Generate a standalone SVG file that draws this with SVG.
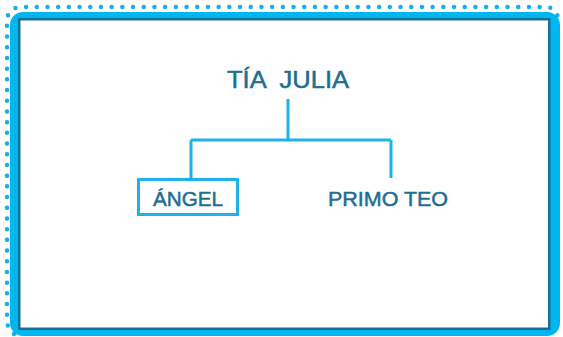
<svg xmlns="http://www.w3.org/2000/svg" width="563" height="337" viewBox="0 0 563 337">
<style>
.lbl{font-family:"Liberation Sans","DejaVu Sans",sans-serif;fill:#1d6e92;stroke:#1d6e92;stroke-width:0.5;font-weight:normal}
.conn{stroke:#1fb2ea;stroke-width:3;fill:none}
</style>
<rect width="563" height="337" fill="#ffffff"/>
<g id="frame">
<path d="M14 334 Q7 329 7 320 L7 22 Q7 7 22 7 L545 7 Q555 7 558 17" fill="none" stroke="#12b1ec" stroke-width="4.5" stroke-linecap="round" stroke-dasharray="0 10.7"/>
<rect x="10" y="12" width="550" height="324" rx="13" fill="#00b6f0"/>
<rect x="19.25" y="19.25" width="530" height="309.5" fill="#ffffff" stroke="#176f92" stroke-width="2.5"/>
</g>
<g id="connectors">
<path class="conn" d="M288 99 V140 M191 140 H391 M191 140 V178 M391 140 V178"/>
</g>
<g id="tia-julia">
<text class="lbl" x="288" y="88" font-size="24" text-anchor="middle" textLength="122" lengthAdjust="spacingAndGlyphs" xml:space="preserve">TÍA  JULIA</text>
</g>
<g id="angel">
<rect x="138.5" y="179.5" width="99" height="35" fill="none" stroke="#1fb2ea" stroke-width="3"/>
<text class="lbl" x="188" y="206" font-size="20.5" text-anchor="middle" textLength="70" lengthAdjust="spacingAndGlyphs">ÁNGEL</text>
</g>
<g id="primo-teo">
<text class="lbl" x="388" y="206" font-size="20.5" text-anchor="middle" textLength="120" lengthAdjust="spacingAndGlyphs">PRIMO TEO</text>
</g>
</svg>
